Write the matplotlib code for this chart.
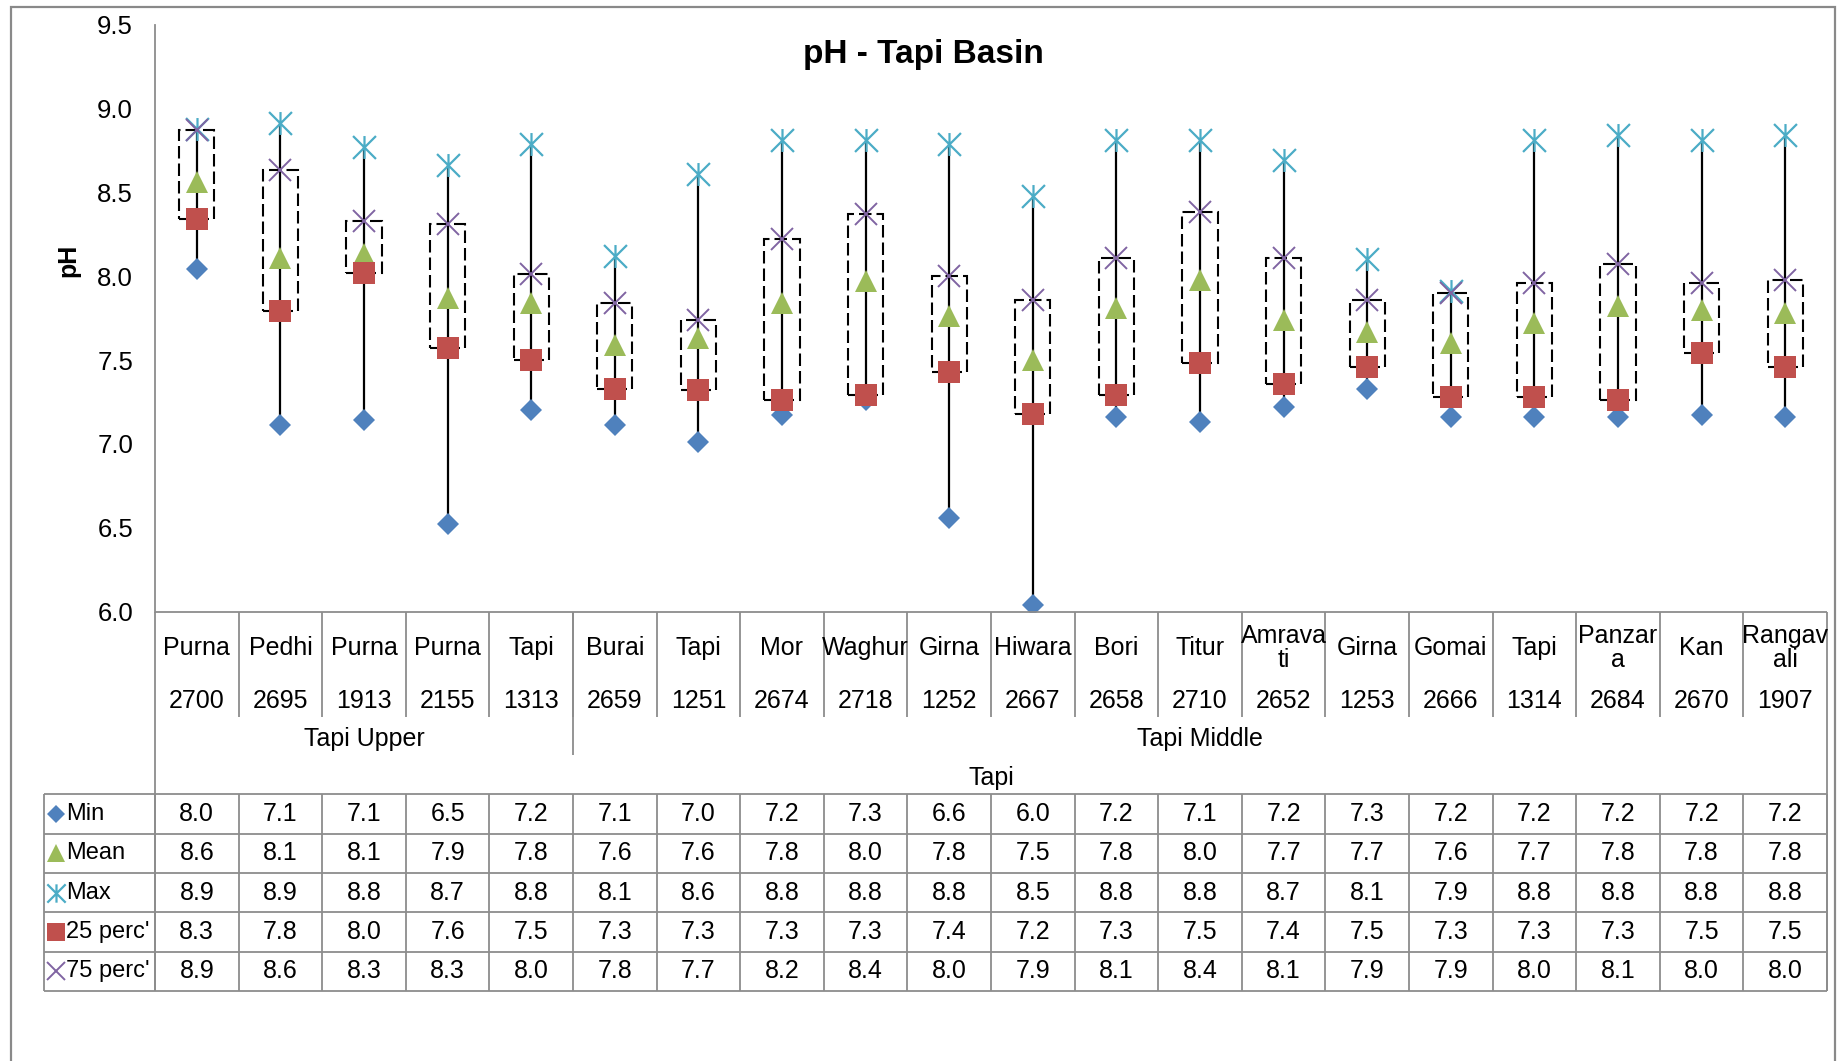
import matplotlib
matplotlib.use("Agg")
import matplotlib.pyplot as plt
import numpy as np
from matplotlib import font_manager
from matplotlib.path import Path
from matplotlib.patches import Rectangle

# narrow Arial-like face if the system has it, else the regular one a bit smaller
_names = {f.name for f in font_manager.fontManager.ttflist}
NARROW = "Liberation Sans Narrow" in _names
FONT = "Liberation Sans Narrow" if NARROW else "Liberation Sans"
plt.rcParams["font.family"] = [FONT, "DejaVu Sans"]
FS = 19.5 if NARROW else 18
LEG_FS = 19.5 if NARROW else 17
TITLE_FS = 28 if NARROW else 24

# ---- data: pH summary per monitoring station ----
stations = ["Purna", "Pedhi", "Purna", "Purna", "Tapi", "Burai", "Tapi", "Mor", "Waghur", "Girna",
            "Hiwara", "Bori", "Titur", "Amrava\nti", "Girna", "Gomai", "Tapi", "Panzar\na", "Kan",
            "Rangav\nali"]
codes = ["2700", "2695", "1913", "2155", "1313", "2659", "1251", "2674", "2718", "1252",
         "2667", "2658", "2710", "2652", "1253", "2666", "1314", "2684", "2670", "1907"]
sub_basins = ["Tapi Upper", "Tapi Middle"]
sub_counts = [5, 15]
basin = "Tapi"

ph_min  = [8.04, 7.11, 7.14, 6.52, 7.20, 7.11, 7.01, 7.17, 7.26, 6.56,
           6.04, 7.16, 7.13, 7.22, 7.33, 7.16, 7.16, 7.16, 7.17, 7.16]
ph_mean = [8.56, 8.11, 8.13, 7.87, 7.84, 7.59, 7.63, 7.84, 7.97, 7.76,
           7.50, 7.81, 7.98, 7.74, 7.67, 7.60, 7.72, 7.82, 7.80, 7.78]
ph_max  = [8.88, 8.91, 8.77, 8.66, 8.79, 8.12, 8.61, 8.81, 8.81, 8.79,
           8.48, 8.81, 8.81, 8.69, 8.10, 7.91, 8.81, 8.84, 8.81, 8.84]
ph_p25  = [8.34, 7.79, 8.02, 7.57, 7.50, 7.33, 7.32, 7.26, 7.29, 7.43,
           7.18, 7.29, 7.48, 7.36, 7.46, 7.28, 7.28, 7.26, 7.54, 7.46]
ph_p75  = [8.87, 8.63, 8.33, 8.31, 8.01, 7.84, 7.74, 8.22, 8.37, 8.00,
           7.86, 8.11, 8.38, 8.11, 7.86, 7.90, 7.96, 8.07, 7.96, 7.98]

N = len(stations)
x = np.arange(N)

# asterisk: vertical stroke plus an X
STAR = Path([(0, -1), (0, 1), (-1, -1), (1, 1), (-1, 1), (1, -1)],
            [Path.MOVETO, Path.LINETO] * 3)

series = [
    ("Min", ph_min, dict(marker="D", color="#4F81BD", ms=11.7, mew=0)),
    ("Mean", ph_mean, dict(marker="^", color="#9BBB59", ms=16.5, mew=0)),
    ("Max", ph_max, dict(marker=STAR, color="#4BACC6", ms=16.5, mew=1.6)),
    ("25 perc'", ph_p25, dict(marker="s", color="#C0504D", ms=15.3, mew=0)),
    ("75 perc'", ph_p75, dict(marker="x", color="#8064A2", ms=15.6, mew=1.4)),
]

W, H = 1837, 1061
GRID = dict(color="#8c8c8c", lw=1.3, clip_on=False)

fig = plt.figure(figsize=(W / 100, H / 100), dpi=100)

# ---- chart area ----
X0, X1 = 155, 1827          # plot left / right (px)
Y_TOP, Y_BOT = 24.5, 611.7  # 9.5 / 6.0 (px)
ax = fig.add_axes([X0 / W, 1 - Y_BOT / H, (X1 - X0) / W, (Y_BOT - Y_TOP) / H])

ax.vlines(x, ph_min, ph_max, color="black", lw=1.6, zorder=2)
ax.bar(x, np.subtract(ph_p75, ph_p25), bottom=ph_p25, width=0.42, fill=False,
       edgecolor="black", lw=1.5, linestyle=(0, (6, 2.4)), zorder=3)
for name, vals, st in series:
    ax.plot(x, vals, linestyle="none", marker=st["marker"], ms=st["ms"],
            color=st["color"], mec=st["color"], mew=st["mew"], zorder=4)

ax.set_xlim(-0.5, N - 0.5)
ax.set_ylim(6.0, 9.5)
ax.set_yticks(np.arange(6.0, 9.51, 0.5))
ax.set_yticklabels([f"{t:.1f}" for t in np.arange(6.0, 9.51, 0.5)], fontsize=FS + 0.5)
ax.tick_params(axis="y", length=0, pad=15.8)
ax.set_xticks([])
for s in ("top", "right", "bottom"):
    ax.spines[s].set_visible(False)
ax.spines["left"].set_color("#8c8c8c")
ax.spines["left"].set_linewidth(1.3)
ax.patch.set_alpha(0)

fig.text(923 / W, 1 - 63 / H, "pH - Tapi Basin", ha="center", va="baseline",
         fontsize=TITLE_FS, fontweight="bold")
fig.text(68 / W, 1 - 260 / H, "pH", rotation=90, ha="center", va="center",
         fontsize=18, fontweight="bold")

# ---- data table under the chart ----
COL_W = (X1 - X0) / N
LEG_L = 44.3
LEG_X0 = -0.5 - (X0 - LEG_L) / COL_W
T_BOT = 991
tab = fig.add_axes([LEG_L / W, 1 - T_BOT / H, (X1 - LEG_L) / W, (T_BOT - Y_BOT) / H])
tab.set_xlim(LEG_X0, N - 0.5)
tab.set_ylim(T_BOT, Y_BOT)
tab.axis("off")

NAME_Y, CODE_Y, CELL_BOT = 648, 701, 717
SUB_Y, SUB_BOT, BASIN_Y = 739, 755, 778
ROWS_TOP = 794.3
ROW_H = (T_BOT - ROWS_TOP) / len(series)
edges = np.arange(N + 1) - 0.5

# header cells
tab.hlines(Y_BOT, -0.5, N - 0.5, **GRID)
tab.vlines(edges[1:-1], Y_BOT, CELL_BOT, **GRID)
tab.vlines(N - 0.5, Y_BOT, T_BOT, **GRID)
tab.vlines(-0.5, Y_BOT, T_BOT, **GRID)
for i in range(N):
    tab.text(i, NAME_Y, stations[i], ha="center", va="center", fontsize=FS, linespacing=0.95)
    tab.text(i, CODE_Y, codes[i], ha="center", va="center", fontsize=FS)

start = 0
for k, (lab, cnt) in enumerate(zip(sub_basins, sub_counts)):
    tab.text(start + (cnt - 1) / 2, SUB_Y, lab, ha="center", va="center", fontsize=FS)
    start += cnt
    if k < len(sub_basins) - 1:
        tab.vlines(edges[start], Y_BOT, SUB_BOT, **GRID)
tab.text((N - 1) / 2, BASIN_Y, basin, ha="center", va="center", fontsize=FS)

# value rows
rows_y = ROWS_TOP + ROW_H * np.arange(len(series) + 1)
tab.hlines(rows_y, LEG_X0, N - 0.5, **GRID)
tab.vlines(np.append(edges, LEG_X0), ROWS_TOP, T_BOT, **GRID)
key_x = LEG_X0 + (56 - LEG_L) / COL_W
lab_x = LEG_X0 + (66 - LEG_L) / COL_W
for r, (name, vals, st) in enumerate(series):
    yc = ROWS_TOP + ROW_H * (r + 0.5)
    tab.plot([key_x], [yc], linestyle="none", marker=st["marker"], ms=st["ms"] * 0.8,
             color=st["color"], mec=st["color"], mew=st["mew"], clip_on=False)
    tab.text(lab_x, yc, name, ha="left", va="center", fontsize=LEG_FS)
    for i, v in enumerate(vals):
        tab.text(i, yc, f"{v:.1f}", ha="center", va="center", fontsize=FS)

# outer chart border
fig.add_artist(Rectangle((11 / W, -0.05), (1835.3 - 11) / W, 0.05 + (H - 7.3) / H,
                         transform=fig.transFigure, fill=False, edgecolor="#898989", lw=1.6))

fig.savefig("out.png", dpi=100)
